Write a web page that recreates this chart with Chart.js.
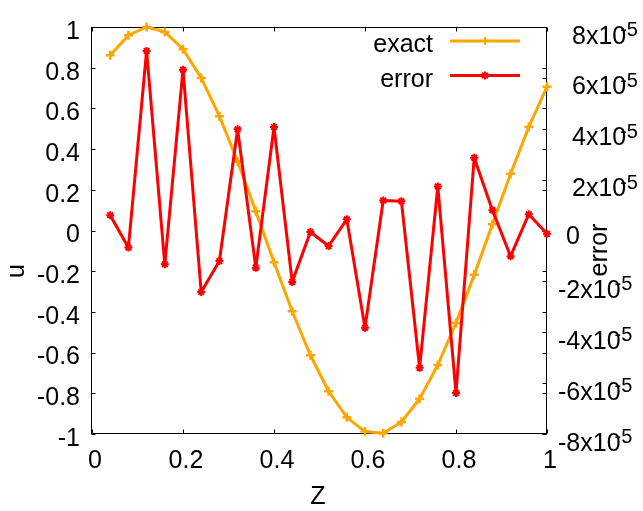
<!DOCTYPE html>
<html>
<head>
<meta charset="utf-8">
<title>exact and error</title>
<script src="https://cdn.jsdelivr.net/npm/chart.js@4.4.1/dist/chart.umd.min.js"></script>
<style>
  html, body { margin: 0; padding: 0; background: #ffffff; }
  #wrap { width: 643px; height: 511px; }
</style>
</head>
<body>
<div id="wrap"><canvas id="plot" width="643" height="511"></canvas></div>
<script>
// Sample positions along Z
const zValues = [0.04, 0.08, 0.12, 0.16, 0.20, 0.24, 0.28, 0.32, 0.36, 0.40,
                 0.44, 0.48, 0.52, 0.56, 0.60, 0.64, 0.68, 0.72, 0.76, 0.80,
                 0.84, 0.88, 0.92, 0.96, 1.00];

// Exact solution u(Z) (left axis)
const exactValues = [0.861, 0.960, 1.000, 0.976, 0.891, 0.750, 0.562, 0.339, 0.094, -0.156,
                     -0.397, -0.613, -0.790, -0.918, -0.988, -0.996, -0.941, -0.827, -0.661, -0.454,
                     -0.218, 0.031, 0.279, 0.509, 0.707];

// Pointwise error (right axis)
const errorValues = [0.60e-5, -0.67e-5, 7.06e-5, -1.33e-5, 6.32e-5, -2.42e-5, -1.20e-5, 3.98e-5, -1.46e-5, 4.07e-5,
                     -2.02e-5, -0.06e-5, -0.61e-5, 0.44e-5, -3.82e-5, 1.18e-5, 1.15e-5, -5.40e-5, 1.73e-5, -6.39e-5,
                     2.86e-5, 0.80e-5, -1.01e-5, 0.64e-5, -0.13e-5];

// Tick values
const zTicks = [0, 0.2, 0.4, 0.6, 0.8, 1];
const uTicks = [-1, -0.8, -0.6, -0.4, -0.2, 0, 0.2, 0.4, 0.6, 0.8, 1];
const errorTicks = [-8e-5, -6e-5, -4e-5, -2e-5, 0, 2e-5, 4e-5, 6e-5, 8e-5];

const seriesNames = ['exact', 'error'];
const axisTitles = { x: 'Z', y: 'u', y2: 'error' };

const FONT = '"Liberation Sans", Arial, Helvetica, sans-serif';
const ORANGE = '#ffa500';
const RED = '#ff0000';
const FS = 25;

const fmtTick = v => String(Number(v.toFixed(1)));

// Border, inward ticks, right-axis labels, axis titles and key
const gnuFrame = {
  id: 'gnuFrame',
  beforeDatasetsDraw(chart) {
    const { ctx, chartArea: a, scales: { x, y, y2 } } = chart;
    const L = Math.round(a.left) - 0.5, R = Math.round(a.right) - 0.5;
    const T = Math.round(a.top) + 0.5, B = Math.round(a.bottom) - 0.5;
    const tl = 4;
    ctx.save();
    ctx.strokeStyle = '#000';
    ctx.lineWidth = 1;
    ctx.strokeRect(L, T, R - L, B - T);
    ctx.beginPath();
    x.ticks.forEach(t => {
      const px = Math.round(x.getPixelForValue(t.value)) + 0.5;
      ctx.moveTo(px, B); ctx.lineTo(px, B - tl);
      ctx.moveTo(px, T); ctx.lineTo(px, T + tl);
    });
    y.ticks.forEach(t => {
      const py = Math.round(y.getPixelForValue(t.value)) + 0.5;
      ctx.moveTo(L, py); ctx.lineTo(L + tl, py);
      ctx.moveTo(R, py); ctx.lineTo(R - tl, py);
    });
    y2.ticks.forEach(t => {
      const py = Math.round(y2.getPixelForValue(t.value)) + 0.5;
      ctx.moveTo(R, py); ctx.lineTo(R - tl, py);
    });
    ctx.stroke();
    ctx.restore();
  },
  afterDraw(chart) {
    const { ctx, chartArea: a, scales: { y2 } } = chart;
    ctx.save();
    ctx.fillStyle = '#000';
    ctx.textBaseline = 'alphabetic';

    // right axis labels: mantissa x 10 with superscript exponent
    y2.ticks.forEach(t => {
      const py = y2.getPixelForValue(t.value);
      const m = Math.round(t.value / 1e-5);
      ctx.textAlign = 'left';
      if (m === 0) {
        ctx.font = `${FS}px ${FONT}`;
        ctx.fillText('0', a.right + 19, py + 13);
        return;
      }
      const x0 = a.right + (m > 0 ? 25 : 11);
      const main = `${m}x10`;
      ctx.font = `${FS}px ${FONT}`;
      ctx.fillText(main, x0, py + 16.5);
      const w = ctx.measureText(main).width;
      ctx.font = `${Math.round(FS * 0.8)}px ${FONT}`;
      ctx.fillText('-5', x0 + w - 6, py + 9);
    });

    // axis titles
    ctx.font = `${FS}px ${FONT}`;
    ctx.textAlign = 'center';
    ctx.fillText(axisTitles.x, 318, 504);
    ctx.save();
    ctx.translate(24, 271);
    ctx.rotate(-Math.PI / 2);
    ctx.fillText(axisTitles.y, 0, 0);
    ctx.restore();
    ctx.save();
    ctx.translate(607, 250);
    ctx.rotate(-Math.PI / 2);
    ctx.fillText(axisTitles.y2, 0, 0);
    ctx.restore();

    // key
    const rows = [
      { label: seriesNames[0], color: ORANGE, style: 'cross', base: 52, line: 41 },
      { label: seriesNames[1], color: RED, style: 'star', base: 87, line: 75.5 }
    ];
    rows.forEach(r => {
      ctx.font = `${FS}px ${FONT}`;
      ctx.textAlign = 'right';
      ctx.fillStyle = '#000';
      ctx.fillText(r.label, 433, r.base);
      ctx.strokeStyle = r.color;
      ctx.lineWidth = 3;
      ctx.beginPath();
      ctx.moveTo(450, r.line);
      ctx.lineTo(520, r.line);
      ctx.stroke();
      ctx.lineWidth = 2;
      Chart.helpers.drawPoint(ctx, { pointStyle: r.style, radius: 4, borderWidth: 2, rotation: 0 }, 485, r.line);
    });
    ctx.restore();
  }
};

const toPoints = vals => zValues.map((z, i) => ({ x: z, y: vals[i] }));

new Chart(document.getElementById('plot'), {
  type: 'line',
  data: {
    datasets: [
      {
        label: seriesNames[0],
        data: toPoints(exactValues),
        yAxisID: 'y',
        borderColor: ORANGE,
        backgroundColor: ORANGE,
        borderWidth: 3,
        borderJoinStyle: 'round',
        pointStyle: 'cross',
        pointRadius: 4.5,
        pointBorderWidth: 2.5,
        pointBorderColor: ORANGE,
        tension: 0,
        clip: false,
        order: 1
      },
      {
        label: seriesNames[1],
        data: toPoints(errorValues),
        yAxisID: 'y2',
        borderColor: RED,
        backgroundColor: RED,
        borderWidth: 3,
        borderJoinStyle: 'round',
        pointStyle: 'star',
        pointRadius: 4,
        pointBorderWidth: 2,
        pointBorderColor: RED,
        tension: 0,
        clip: false,
        order: 0
      }
    ]
  },
  options: {
    responsive: false,
    animation: false,
    events: [],
    layout: { padding: { top: 19, left: 0, right: 0, bottom: 0 } },
    plugins: { legend: { display: false }, tooltip: { enabled: false } },
    scales: {
      x: {
        type: 'linear',
        position: 'bottom',
        min: 0,
        max: 1,
        afterBuildTicks: s => { s.ticks = zTicks.map(v => ({ value: v })); },
        afterFit: s => { s.height = 77; },
        grid: { display: false, drawTicks: false },
        border: { display: false },
        ticks: {
          font: { family: FONT, size: FS },
          color: '#000',
          padding: 12,
          labelOffset: 3,
          maxRotation: 0,
          autoSkip: false,
          callback: v => fmtTick(v)
        }
      },
      y: {
        type: 'linear',
        position: 'left',
        min: -1,
        max: 1,
        afterBuildTicks: s => { s.ticks = uTicks.map(v => ({ value: v })); },
        afterFit: s => { s.width = 92; },
        grid: { display: false, drawTicks: false },
        border: { display: false },
        ticks: {
          font: { family: FONT, size: FS },
          color: '#000',
          padding: 12,
          labelOffset: 5,
          autoSkip: false,
          callback: v => fmtTick(v)
        }
      },
      y2: {
        type: 'linear',
        position: 'right',
        min: -8e-5,
        max: 8e-5,
        afterBuildTicks: s => { s.ticks = errorTicks.map(v => ({ value: v })); },
        afterFit: s => { s.width = 96; },
        grid: { display: false, drawTicks: false },
        border: { display: false },
        ticks: { display: false }
      }
    }
  },
  plugins: [gnuFrame]
});
</script>
</body>
</html>
